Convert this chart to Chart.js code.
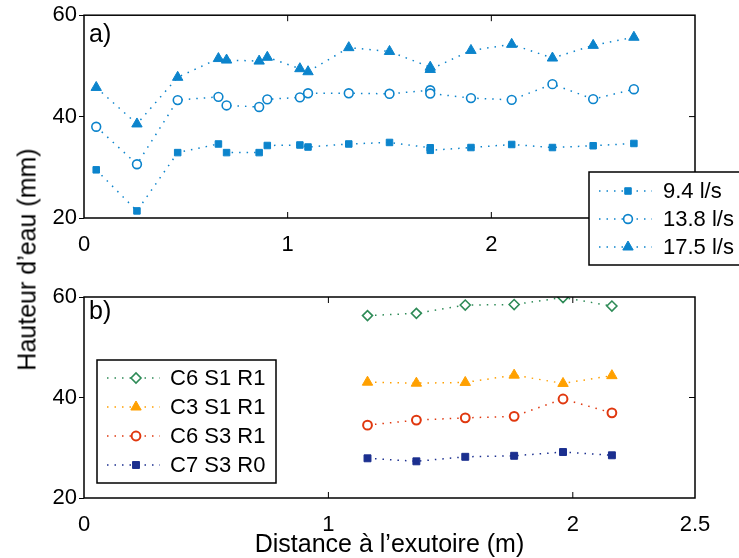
<!DOCTYPE html>
<html>
<head>
<meta charset="utf-8">
<script src="https://cdn.jsdelivr.net/npm/chart.js@4.4.1/dist/chart.umd.min.js"></script>
<style>
  body { margin: 0; background: #fff; }
  #wrap { position: relative; width: 739px; height: 558px; overflow: hidden; }
  canvas { position: absolute; left: 0; }
  #ytitle {
    position: absolute; left: -125.4px; top: 246.5px; width: 300px; height: 25px;
    line-height: 25px; text-align: center; white-space: nowrap;
    font: 25px 'Liberation Sans', Arial, Helvetica, sans-serif; color: #000;
    transform: rotate(-90deg);
  }
</style>
</head>
<body>
<div id="wrap">
  <canvas id="topChart" width="739" height="290" style="top:0"></canvas>
  <canvas id="botChart" width="739" height="288" style="top:270px"></canvas>
  <div id="ytitle">Hauteur d’eau (mm)</div>
</div>
<script>
const FONT = "'Liberation Sans', Arial, Helvetica, sans-serif";

// panel a) - distance (m) and water height (mm)
const xTop = [0.06, 0.26, 0.46, 0.66, 0.70, 0.86, 0.90, 1.06, 1.10, 1.30, 1.50, 1.70, 1.70, 1.90, 2.10, 2.30, 2.50, 2.70];
const q94  = [29.5, 21.4, 32.9, 34.6, 32.9, 32.9, 34.3, 34.4, 34.0, 34.6, 34.9, 33.85, 33.35, 33.9, 34.5, 33.9, 34.25, 34.7];
const q138 = [38.0, 30.6, 43.25, 43.9, 42.2, 41.9, 43.4, 43.8, 44.6, 44.6, 44.5, 45.2, 44.55, 43.65, 43.3, 46.4, 43.45, 45.4];
const q175 = [45.75, 38.55, 47.75, 51.45, 51.15, 50.95, 51.7, 49.45, 48.85, 53.6, 52.85, 49.75, 49.3, 53.05, 54.25, 51.55, 54.05, 55.65];
const topLabels = ["9.4 l/s", "13.8 l/s", "17.5 l/s"];

// panel b)
const xBot = [1.16, 1.36, 1.56, 1.76, 1.96, 2.16];
const c6s1r1 = [56.3, 56.75, 58.4, 58.5, 59.9, 58.2];
const c3s1r1 = [43.05, 42.85, 43.0, 44.45, 42.8, 44.35];
const c6s3r1 = [34.5, 35.5, 35.95, 36.25, 39.7, 36.95];
const c7s3r0 = [27.9, 27.3, 28.2, 28.4, 29.15, 28.5];
const botLabels = ["C6 S1 R1", "C3 S1 R1", "C6 S3 R1", "C7 S3 R0"];

const yTicks = [20, 40, 60];
const xTicksTop = [0, 1, 2, 3];
const xTicksBot = [0, 1, 2, 2.5];

const BLUE = "#0c84cc";

function pts(xs, ys) {
    return xs.map((x, i) => ({ x: x, y: ys[i] }));
}

function series(label, xs, ys, color, style, filled, radius, bw) {
    return {
        label: label,
        data: pts(xs, ys),
        showLine: true,
        borderColor: color,
        borderWidth: 1.5,
        borderDash: [1.5, 6],
        pointStyle: style,
        pointRadius: radius,
        pointHoverRadius: radius,
        pointBorderWidth: bw,
        pointBackgroundColor: filled ? color : "#fff",
        pointBorderColor: color
    };
}

// box, inward ticks, panel tag and legend
const framePlugin = {
    id: "frame",
    afterDraw(chart, args, opts) {
        const ctx = chart.ctx;
        const a = chart.chartArea;
        const x = chart.scales.x, y = chart.scales.y;
        ctx.save();
        ctx.strokeStyle = "#000";
        ctx.lineWidth = 1.5;
        ctx.strokeRect(a.left, a.top, a.right - a.left, a.bottom - a.top);

        ctx.lineWidth = 1;
        ctx.beginPath();
        x.ticks.forEach(t => {
            const px = x.getPixelForValue(t.value);
            if (px <= a.left + 1 || px >= a.right - 1) return;
            ctx.moveTo(px, a.bottom); ctx.lineTo(px, a.bottom - 6);
            ctx.moveTo(px, a.top); ctx.lineTo(px, a.top + 6);
        });
        y.ticks.forEach(t => {
            const py = y.getPixelForValue(t.value);
            if (py <= a.top + 1 || py >= a.bottom - 1) return;
            ctx.moveTo(a.right, py); ctx.lineTo(a.right - 6, py);
        });
        ctx.stroke();

        ctx.fillStyle = "#000";
        ctx.font = "25px " + FONT;
        ctx.textBaseline = "alphabetic";
        ctx.textAlign = "left";
        ctx.fillText(opts.tag, a.left + 5, a.top + opts.tagDy);

        // legend
        const L = opts.legend;
        ctx.fillStyle = "#fff";
        ctx.fillRect(L.x, L.y, L.w, L.h);
        ctx.lineWidth = 1.5;
        ctx.strokeStyle = "#000";
        ctx.strokeRect(L.x, L.y, L.w, L.h);
        chart.data.datasets.forEach((ds, i) => {
            const ry = L.rows[i];
            ctx.save();
            ctx.strokeStyle = ds.borderColor;
            ctx.lineWidth = 1.5;
            ctx.setLineDash([1.5, 6]);
            ctx.beginPath();
            ctx.moveTo(L.x0, ry); ctx.lineTo(L.x1, ry);
            ctx.stroke();
            ctx.setLineDash([]);
            ctx.fillStyle = ds.pointBackgroundColor;
            ctx.strokeStyle = ds.pointBorderColor;
            ctx.lineWidth = ds.pointBorderWidth;
            Chart.helpers.drawPoint(ctx, {
                pointStyle: ds.pointStyle, radius: ds.pointRadius,
                rotation: 0, borderWidth: ds.pointBorderWidth
            }, L.mx, ry);
            ctx.restore();
            ctx.fillStyle = "#000";
            ctx.font = "22px " + FONT;
            ctx.textBaseline = "middle";
            ctx.fillText(ds.label, L.tx, ry + 1);
        });
        ctx.restore();
    }
};

function scales(xmax, xticks, axisHeight, withTitle) {
    return {
        x: {
            type: "linear", min: 0, max: xmax,
            afterBuildTicks: s => { s.ticks = xticks.map(v => ({ value: v })); },
            afterFit: s => { s.height = axisHeight; },
            grid: { display: false },
            border: { display: false },
            ticks: {
                font: { family: FONT, size: 22 }, color: "#000", padding: 6,
                maxRotation: 0, autoSkip: false, callback: v => String(v)
            },
            title: {
                display: withTitle, text: "Distance à l’exutoire (m)", color: "#000",
                font: { family: FONT, size: 25, lineHeight: 1.07 },
                padding: { top: 0, bottom: 0 }
            }
        },
        y: {
            min: 20, max: 60,
            afterBuildTicks: s => { s.ticks = yTicks.map(v => ({ value: v })); },
            afterFit: s => { s.width = 84; },
            grid: { drawOnChartArea: false, tickLength: 5, color: "#000", lineWidth: 1 },
            border: { display: false },
            ticks: { font: { family: FONT, size: 22 }, color: "#000", padding: 2 }
        }
    };
}

Chart.defaults.animation = false;

new Chart(document.getElementById("topChart"), {
    type: "scatter",
    data: {
        datasets: [
            series(topLabels[0], xTop, q94, BLUE, "rect", true, 4.6, 1),
            series(topLabels[1], xTop, q138, BLUE, "circle", false, 4.4, 1.6),
            series(topLabels[2], xTop, q175, BLUE, "triangle", true, 6, 1)
        ]
    },
    options: {
        responsive: false,
        layout: { padding: { left: 0, right: 44, top: 15, bottom: 0 } },
        scales: scales(3, xTicksTop, 72, false),
        plugins: {
            legend: { display: false },
            tooltip: { enabled: false },
            frame: {
                tag: "a)", tagDy: 26.5,
                legend: { x: 589, y: 172, w: 160, h: 93, rows: [191, 219, 247], x0: 599, x1: 652, mx: 628, tx: 663 }
            }
        }
    },
    plugins: [framePlugin]
});

new Chart(document.getElementById("botChart"), {
    type: "scatter",
    data: {
        datasets: [
            series(botLabels[0], xBot, c6s1r1, "#2e8b57", "rectRot", false, 5, 1.6),
            series(botLabels[1], xBot, c3s1r1, "#ffa000", "triangle", true, 6, 1),
            series(botLabels[2], xBot, c6s3r1, "#e0380f", "circle", false, 4.4, 2),
            series(botLabels[3], xBot, c7s3r0, "#1b2f8f", "rect", true, 4.9, 1)
        ]
    },
    options: {
        responsive: false,
        layout: { padding: { left: 0, right: 44, top: 27, bottom: 0 } },
        scales: scales(2.5, xTicksBot, 60, true),
        plugins: {
            legend: { display: false },
            tooltip: { enabled: false },
            frame: {
                tag: "b)", tagDy: 21.5,
                legend: { x: 97, y: 90, w: 179, h: 123, rows: [108, 137, 166, 195], x0: 107, x1: 160, mx: 136, tx: 170 }
            }
        }
    },
    plugins: [framePlugin]
});
</script>
</body>
</html>
